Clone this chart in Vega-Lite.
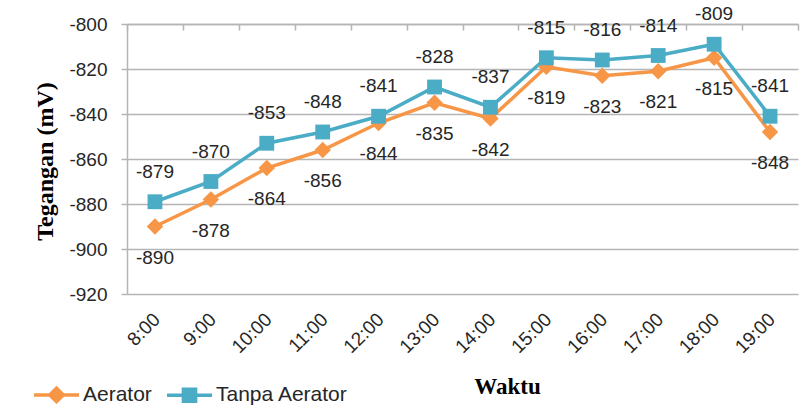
{
  "$schema": "https://vega.github.io/schema/vega-lite/v6.json",
  "width": 671,
  "height": 270,
  "autosize": {"type": "none"},
  "padding": {"left": 127, "top": 24, "right": 12, "bottom": 121},
  "background": "white",
  "config": {
    "view": {"stroke": null},
    "font": "Liberation Sans",
    "axis": {"labelFont": "Liberation Sans", "labelFontSize": 19, "labelColor": "#262626", "gridColor": "#B5B5B5", "gridWidth": 1.5, "domainColor": "#B5B5B5", "domainWidth": 1.5, "tickColor": "#B5B5B5", "tickWidth": 1.5}
  },
  "data": {
    "values": [
      {"time": "8:00", "series": "Aerator", "value": -890},
      {"time": "9:00", "series": "Aerator", "value": -878},
      {"time": "10:00", "series": "Aerator", "value": -864},
      {"time": "11:00", "series": "Aerator", "value": -856},
      {"time": "12:00", "series": "Aerator", "value": -844},
      {"time": "13:00", "series": "Aerator", "value": -835},
      {"time": "14:00", "series": "Aerator", "value": -842},
      {"time": "15:00", "series": "Aerator", "value": -819},
      {"time": "16:00", "series": "Aerator", "value": -823},
      {"time": "17:00", "series": "Aerator", "value": -821},
      {"time": "18:00", "series": "Aerator", "value": -815},
      {"time": "19:00", "series": "Aerator", "value": -848},
      {"time": "8:00", "series": "Tanpa Aerator", "value": -879},
      {"time": "9:00", "series": "Tanpa Aerator", "value": -870},
      {"time": "10:00", "series": "Tanpa Aerator", "value": -853},
      {"time": "11:00", "series": "Tanpa Aerator", "value": -848},
      {"time": "12:00", "series": "Tanpa Aerator", "value": -841},
      {"time": "13:00", "series": "Tanpa Aerator", "value": -828},
      {"time": "14:00", "series": "Tanpa Aerator", "value": -837},
      {"time": "15:00", "series": "Tanpa Aerator", "value": -815},
      {"time": "16:00", "series": "Tanpa Aerator", "value": -816},
      {"time": "17:00", "series": "Tanpa Aerator", "value": -814},
      {"time": "18:00", "series": "Tanpa Aerator", "value": -809},
      {"time": "19:00", "series": "Tanpa Aerator", "value": -841}
    ]
  },
  "resolve": {"axis": {"x": "independent"}},
  "layer": [
    {
      "mark": {"type": "line", "strokeWidth": 3.5},
      "encoding": {
        "x": {"field": "time", "type": "ordinal", "sort": null, "bandPosition": 0.5,
              "scale": {"type": "band", "paddingInner": 0, "paddingOuter": 0},
              "axis": {"orient": "top", "labels": false, "title": null, "grid": false, "domain": true, "ticks": true, "tickSize": -6, "tickBand": "extent"}},
        "y": {"field": "value", "type": "quantitative",
              "scale": {"domain": [-920, -800], "nice": false, "zero": false},
              "axis": {"values": [-920, -900, -880, -860, -840, -820, -800], "labelExpr": "'' + datum.value", "title": "Tegangan (mV)", "titleFont": "Liberation Serif", "titleFontWeight": "bold", "titleFontSize": 24, "titleColor": "#000000", "titleX": -82, "titleY": 137, "titleBaseline": "middle", "titleAlign": "center", "titleAngle": -90, "tickSize": 6, "labelPadding": 14, "grid": true}},
        "color": {"field": "series", "type": "nominal",
                  "scale": {"domain": ["Aerator", "Tanpa Aerator"], "range": ["#F79646", "#4BACC6"]},
                  "legend": {"title": null, "orient": "none", "legendX": -95, "legendY": 346, "direction": "horizontal",
                             "labelFont": "Liberation Sans", "labelFontSize": 21, "labelColor": "#262626", "labelOffset": 2,
                             "symbolType": "M-1,0L1,0", "symbolSize": 2025, "symbolStrokeWidth": 3.5, "columnPadding": 8,
                             "encode": {"symbols": {"update": {
                               "shape": {"signal": "datum.value === 'Aerator' ? 'M-1,0L1,0M-0.3,0L0,-0.3L0.3,0L0,0.3Z' : 'M-1,0L1,0M-0.27,-0.27L0.27,-0.27L0.27,0.27L-0.27,0.27Z'"},
                               "fill": {"signal": "datum.value === 'Aerator' ? '#F79646' : '#4BACC6'"},
                               "stroke": {"signal": "datum.value === 'Aerator' ? '#F79646' : '#4BACC6'"},
                               "fillOpacity": {"value": 1},
                               "strokeWidth": {"value": 3.5}
                             }}}}}
      }
    },
    {
      "transform": [{"filter": "datum.series === 'Aerator'"}],
      "mark": {"type": "point", "filled": true, "opacity": 1, "shape": "diamond", "size": 270, "color": "#F79646"},
      "encoding": {
        "x": {"field": "time", "type": "ordinal", "sort": null, "bandPosition": 0.5,
              "axis": {"orient": "bottom", "title": "Waktu", "titleFont": "Liberation Serif", "titleFontWeight": "bold", "titleFontSize": 23, "titleColor": "#000000", "titleX": 380, "titleY": 92, "titleBaseline": "middle", "titleAlign": "center",
                       "labelAngle": -45, "labelAlign": "right", "labelBaseline": "middle", "labelPadding": 22, "labelOffset": 2, "ticks": false, "domain": false, "grid": false}},
        "y": {"field": "value", "type": "quantitative"}
      }
    },
    {
      "transform": [{"filter": "datum.series === 'Tanpa Aerator'"}],
      "mark": {"type": "point", "filled": true, "opacity": 1, "shape": "square", "size": 220, "color": "#4BACC6"},
      "encoding": {
        "x": {"field": "time", "type": "ordinal", "sort": null, "bandPosition": 0.5, "axis": null},
        "y": {"field": "value", "type": "quantitative"}
      }
    },
    {
      "transform": [{"filter": "datum.series === 'Tanpa Aerator'"}],
      "mark": {"type": "text", "dy": -30, "fontSize": 19, "font": "Liberation Sans", "color": "#262626"},
      "encoding": {
        "x": {"field": "time", "type": "ordinal", "sort": null, "bandPosition": 0.5, "axis": null},
        "y": {"field": "value", "type": "quantitative"},
        "text": {"field": "value", "type": "nominal"}
      }
    },
    {
      "transform": [{"filter": "datum.series === 'Aerator'"}],
      "mark": {"type": "text", "dy": 31, "fontSize": 19, "font": "Liberation Sans", "color": "#262626"},
      "encoding": {
        "x": {"field": "time", "type": "ordinal", "sort": null, "bandPosition": 0.5, "axis": null},
        "y": {"field": "value", "type": "quantitative"},
        "text": {"field": "value", "type": "nominal"}
      }
    }
  ]
}
